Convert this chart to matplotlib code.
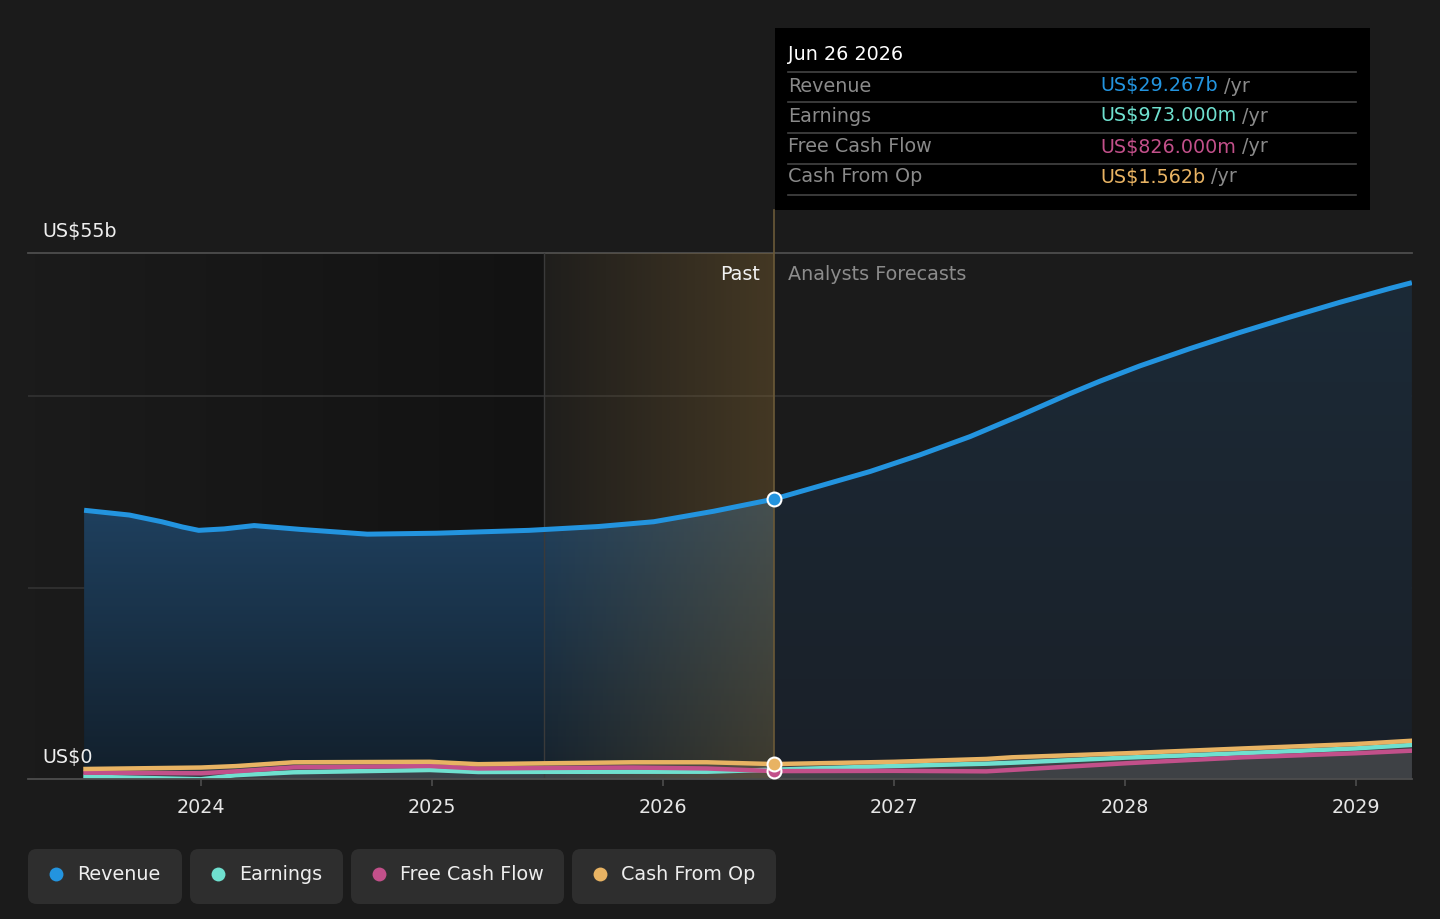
import numpy as np
import matplotlib
matplotlib.use("Agg")
import matplotlib.pyplot as plt
from matplotlib.patches import Rectangle, FancyBboxPatch
from matplotlib.lines import Line2D

plt.rcParams['font.family'] = ['DejaVu Sans']

# ---------------- data (US$ billions) ----------------
rev_x = [2023.494, 2023.69, 2023.83, 2023.92, 2023.99, 2024.1, 2024.23, 2024.43, 2024.72,
         2025.02, 2025.42, 2025.72, 2025.96, 2026.22, 2026.48, 2026.68, 2026.896,
         2027.113, 2027.329, 2027.545, 2027.762, 2027.892, 2028.065, 2028.281,
         2028.498, 2028.714, 2028.931, 2029.147, 2029.242]
rev_y = [28.1, 27.6, 26.9, 26.35, 26.0, 26.15, 26.5, 26.1, 25.6,
         25.7, 26.0, 26.4, 26.9, 28.0, 29.267, 30.65, 32.15,
         33.9, 35.8, 38.0, 40.3, 41.6, 43.2, 45.0,
         46.7, 48.3, 49.85, 51.3, 51.9]

small_x = [2023.5, 2024.0, 2024.15, 2024.4, 2024.99, 2025.2, 2025.48, 2025.87,
           2026.19, 2026.48, 2027.0, 2027.4, 2027.51, 2028.0, 2028.515, 2029.0, 2029.24]
cfo_y = [1.05, 1.2, 1.35, 1.75, 1.8, 1.55, 1.64, 1.75,
         1.75, 1.562, 1.8, 2.1, 2.27, 2.69, 3.2, 3.66, 4.0]
fcf_y = [0.66, 0.6, 0.8, 1.22, 1.36, 1.1, 1.15, 1.2,
         1.1, 0.826, 0.85, 0.8, 0.95, 1.64, 2.27, 2.69, 2.96]
earn_y = [0.25, -0.03, 0.4, 0.7, 0.94, 0.73, 0.75, 0.76,
          0.76, 0.973, 1.36, 1.6, 1.7, 2.23, 2.7, 3.2, 3.56]

past_date = 2026.48
band_start = 2025.485
year_ticks = [2024, 2025, 2026, 2027, 2028, 2029]
y_grid = [20, 40]
y_max = 55

C_REV = '#2394df'
C_EARN = '#6fe0cf'
C_FCF = '#c2508a'
C_CFO = '#e8b363'
BG = '#1b1b1b'
FS = 13.8

W, H = 1440, 919
fig = plt.figure(figsize=(W / 100, H / 100), dpi=100, facecolor=BG)


def fx(px):
    return px / W


def fy(py):
    return 1 - py / H


ax = fig.add_axes([fx(28), fy(779), fx(1412) - fx(28), fy(253) - fy(779)])
ax.set_facecolor(BG)
x0, x1 = 2023.2511, 2029.2424
ax.set_xlim(x0, x1)
ax.set_ylim(0, y_max)
for s in ax.spines.values():
    s.set_visible(False)

# past darkening gradient
grad = np.zeros((2, 256, 4))
grad[..., 3] = np.linspace(0.0, 0.33, 256)[None, :]
ax.imshow(grad, extent=[x0, band_start, 0, y_max], aspect='auto', zorder=0.5,
          interpolation='bilinear')

# grid lines
for g in y_grid:
    ax.axhline(g, color='#333333', lw=1.2, zorder=1)
ax.axhline(y_max, color='#4d4d4d', lw=1.3, zorder=1, clip_on=False)
ax.axhline(0, color='#4d4d4d', lw=1.3, zorder=6, clip_on=False)

# revenue fill with vertical gradient (past / forecast)
rx = np.array(rev_x)
ry = np.array(rev_y)
ip = rev_x.index(past_date)


def grad_fill(xs, ys, top, bottom, z):
    poly = ax.fill_between(xs, 0, ys, color='none', lw=0, zorder=z)
    n = 256
    t = np.linspace(1, 0, n)[:, None]
    c1 = np.array(matplotlib.colors.to_rgb(top))
    c2 = np.array(matplotlib.colors.to_rgb(bottom))
    img = np.zeros((n, 2, 3))
    img[:] = (c2 + (c1 - c2) * t)[:, None, :]
    im = ax.imshow(img, extent=[xs[0], xs[-1], 0, max(ys)], aspect='auto',
                   zorder=z, interpolation='bilinear')
    im.set_clip_path(poly.get_paths()[0], transform=ax.transData)


grad_fill(rx[:ip + 1], ry[:ip + 1], '#1f4160', '#121f2b', 2)
grad_fill(rx[ip:], ry[ip:], '#1c2a37', '#1a2028', 2)

# grey fill under small series
smx = np.array(small_x)
top_small = np.maximum.reduce([np.array(cfo_y), np.array(fcf_y), np.array(earn_y)])
ax.fill_between(smx, 0, top_small, color='#6a6a6a', alpha=0.45, lw=0, zorder=3)

# highlight band gradient
band = np.zeros((2, 256, 4))
band[..., 0] = 0.55
band[..., 1] = 0.42
band[..., 2] = 0.20
band[..., 3] = np.linspace(0.04, 0.36, 256)[None, :]
ax.imshow(band, extent=[band_start, past_date, 0, y_max], aspect='auto', zorder=3.5,
          interpolation='bilinear')
ax.axvline(band_start, color='#3a3a3a', lw=1, zorder=3.6)

# lines
ax.plot(rx, ry, color=C_REV, lw=3.6, solid_capstyle='butt', solid_joinstyle='round', zorder=5)
ax.plot(smx, earn_y, color=C_EARN, lw=3.2, solid_joinstyle='round', zorder=5)
ax.plot(smx, fcf_y, color=C_FCF, lw=3.2, solid_joinstyle='round', zorder=5.1)
ax.plot(smx, cfo_y, color=C_CFO, lw=3.2, solid_joinstyle='round', zorder=5.2)

# divider line (extends up to tooltip)
ax.axvline(past_date, ymin=0, ymax=(779 - 210) / (779 - 253), color='#6b5a38', lw=1.2,
           zorder=4, clip_on=False)

# markers at the hovered date
jp = small_x.index(past_date)
ax.plot([past_date], [fcf_y[jp]], 'o', ms=10, mfc=C_FCF, mec='white', mew=1.5, zorder=7)
ax.plot([past_date], [cfo_y[jp]], 'o', ms=10, mfc=C_CFO, mec='white', mew=1.5, zorder=7.1)
ax.plot([past_date], [rev_y[ip]], 'o', ms=10, mfc=C_REV, mec='white', mew=1.5, zorder=7.2)

# ticks
ax.set_xticks(year_ticks)
ax.set_xticklabels([str(y) for y in year_ticks])
ax.set_yticks([])
ax.tick_params(axis='x', colors='#4d4d4d', length=5, width=1.2, pad=9, labelsize=FS,
               labelcolor='#e6e6e6')

# axis labels
fig.text(fx(42), fy(232), 'US$55b', color='#eeeeee', fontsize=FS, va='center', ha='left')
fig.text(fx(42), fy(758), 'US$0', color='#eeeeee', fontsize=FS, va='center', ha='left')
fig.text(fx(760), fy(274), 'Past', color='#f2f2f2', fontsize=FS, va='center', ha='right')
fig.text(fx(788), fy(274), 'Analysts Forecasts', color='#8c8c8c', fontsize=FS,
         va='center', ha='left')

# tooltip
fig.add_artist(Rectangle((fx(775), fy(210)), fx(1370) - fx(775), fy(28) - fy(210),
                         transform=fig.transFigure, facecolor='#000000', edgecolor='none',
                         zorder=10))
fig.text(fx(788), fy(55), 'Jun 26 2026', color='#ffffff', fontsize=FS, va='center',
         ha='left', zorder=11)
for ly in [72, 102, 133, 164, 195]:
    fig.add_artist(Line2D([fx(788), fx(1356)], [fy(ly), fy(ly)], transform=fig.transFigure,
                          color='#444444', lw=1.2, zorder=11))
rows = [('Revenue', 'US$29.267b', C_REV, 86),
        ('Earnings', 'US$973.000m', C_EARN, 116),
        ('Free Cash Flow', 'US$826.000m', C_FCF, 147),
        ('Cash From Op', 'US$1.562b', C_CFO, 177)]
renderer = fig.canvas.get_renderer()
for lab, val, col, yy in rows:
    fig.text(fx(788), fy(yy), lab, color='#8a8a8a', fontsize=FS, va='center', ha='left',
             zorder=11)
    t = fig.text(fx(1100), fy(yy), val, color=col, fontsize=FS, va='center', ha='left',
                 zorder=11)
    ext = t.get_window_extent(renderer)
    fig.text(ext.x1 / W + fx(6), fy(yy), '/yr', color='#8a8a8a', fontsize=FS,
             va='center', ha='left', zorder=11)

# legend buttons
legend = [('Revenue', C_REV, 28, 182), ('Earnings', C_EARN, 190, 343),
          ('Free Cash Flow', C_FCF, 351, 564), ('Cash From Op', C_CFO, 572, 776)]
for lab, col, l, r in legend:
    fig.add_artist(FancyBboxPatch((fx(l), fy(904)), fx(r) - fx(l), fy(849) - fy(904),
                                  boxstyle='round,pad=0,rounding_size=0.006',
                                  transform=fig.transFigure, facecolor='#2e2e2e',
                                  edgecolor='none', zorder=10,
                                  mutation_aspect=W / H))
    fig.add_artist(Line2D([fx(l + 28)], [fy(874)], marker='o', ms=10, mfc=col, mec='none',
                          transform=fig.transFigure, zorder=11))
    fig.text(fx(l + 49), fy(874), lab, color='#eeeeee', fontsize=FS, va='center',
             ha='left', zorder=11)

fig.savefig('out.png', dpi=100, facecolor=BG)
